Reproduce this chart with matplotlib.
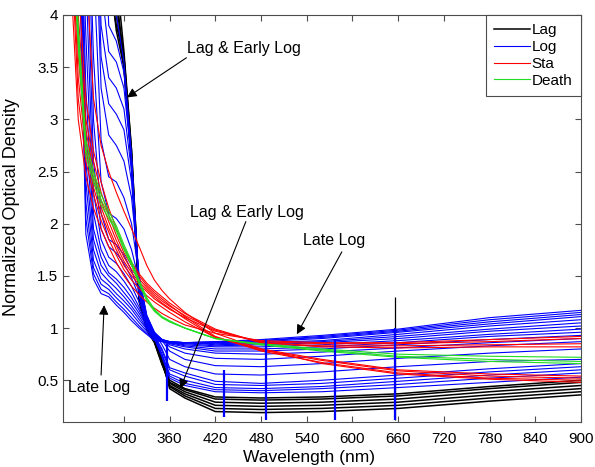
import matplotlib
matplotlib.use("Agg")
import matplotlib.pyplot as plt

plt.rcParams['font.family'] = ['Liberation Sans', 'DejaVu Sans']

wl = [220, 230, 240, 250, 260, 270, 280, 290, 300, 310, 320, 330, 340, 350, 360,
      380, 420, 480, 560, 660, 780, 900]

# Lag phase (black)
lag_od = [
    [6, 6, 6, 6, 6, 6, 4.3, 3.9, 3.6, 2.7, 1.35, 1.02, 0.9, 0.7, 0.42, 0.33, 0.2, 0.19, 0.2, 0.23, 0.3, 0.36],
    [6, 6, 6, 6, 6, 6, 5, 4.1, 3.6, 2.65, 1.3, 1.0, 0.88, 0.68, 0.44, 0.35, 0.23, 0.22, 0.23, 0.26, 0.33, 0.39],
    [6, 6, 6, 6, 6, 6, 6, 4.2, 3.55, 2.6, 1.28, 1.0, 0.87, 0.66, 0.45, 0.37, 0.26, 0.25, 0.26, 0.29, 0.36, 0.42],
    [6, 6, 6, 6, 6, 6, 4.5, 3.85, 3.5, 2.6, 1.3, 1.0, 0.88, 0.67, 0.47, 0.39, 0.29, 0.28, 0.29, 0.32, 0.39, 0.45],
    [6, 6, 6, 6, 6, 6, 6, 4.0, 3.5, 2.55, 1.25, 0.98, 0.86, 0.65, 0.48, 0.41, 0.32, 0.31, 0.32, 0.35, 0.42, 0.48],
    [6, 6, 6, 6, 6, 6, 6, 4.4, 3.65, 2.7, 1.32, 1.01, 0.89, 0.7, 0.5, 0.42, 0.34, 0.33, 0.34, 0.37, 0.44, 0.5],
]

# Log phase (blue), early -> late
log_od = [
    [6, 6, 6, 6, 6, 6, 4.6, 4.0, 3.55, 2.65, 1.32, 1.02, 0.9, 0.72, 0.52, 0.45, 0.39, 0.38, 0.39, 0.43, 0.48, 0.53],
    [6, 6, 6, 6, 6, 6, 3.9, 3.75, 3.45, 2.62, 1.36, 1.04, 0.91, 0.74, 0.54, 0.47, 0.41, 0.4, 0.42, 0.46, 0.52, 0.57],
    [6, 6, 6, 6, 6, 4.3, 3.65, 3.55, 3.3, 2.6, 1.4, 1.05, 0.92, 0.75, 0.56, 0.5, 0.43, 0.42, 0.44, 0.49, 0.55, 0.6],
    [6, 6, 6, 6, 6, 3.9, 3.4, 3.3, 3.1, 2.5, 1.42, 1.06, 0.92, 0.78, 0.6, 0.54, 0.46, 0.45, 0.47, 0.52, 0.58, 0.63],
    [6, 6, 6, 6, 6, 3.6, 3.15, 3.05, 2.9, 2.4, 1.45, 1.08, 0.93, 0.8, 0.62, 0.57, 0.49, 0.47, 0.5, 0.55, 0.61, 0.66],
    [6, 6, 6, 6, 5.5, 3.3, 2.85, 2.75, 2.6, 2.25, 1.5, 1.1, 0.95, 0.84, 0.7, 0.63, 0.56, 0.55, 0.58, 0.63, 0.68, 0.7],
    [6, 6, 6, 6, 4.5, 2.8, 2.45, 2.4, 2.25, 2.0, 1.5, 1.12, 0.96, 0.88, 0.78, 0.7, 0.64, 0.63, 0.66, 0.71, 0.76, 0.8],
    [6, 6, 6, 6, 3.6, 2.4, 2.1, 2.05, 1.95, 1.75, 1.45, 1.12, 0.96, 0.89, 0.82, 0.76, 0.71, 0.7, 0.73, 0.78, 0.83, 0.87],
    [6, 6, 6, 6, 3.0, 2.1, 1.85, 1.8, 1.7, 1.55, 1.35, 1.1, 0.95, 0.89, 0.84, 0.8, 0.76, 0.75, 0.77, 0.81, 0.86, 0.9],
    [6, 6, 6, 5, 2.6, 1.95, 1.78, 1.72, 1.62, 1.48, 1.3, 1.08, 0.95, 0.89, 0.85, 0.82, 0.78, 0.78, 0.8, 0.84, 0.89, 0.93],
    [6, 6, 6, 4.4, 2.3, 1.85, 1.68, 1.62, 1.52, 1.4, 1.25, 1.06, 0.94, 0.89, 0.86, 0.83, 0.8, 0.8, 0.82, 0.86, 0.92, 0.96],
    [6, 6, 6, 3.8, 2.1, 1.75, 1.6, 1.54, 1.45, 1.34, 1.2, 1.04, 0.93, 0.89, 0.86, 0.84, 0.82, 0.82, 0.84, 0.88, 0.94, 0.99],
    [6, 6, 6, 3.3, 1.95, 1.68, 1.53, 1.47, 1.39, 1.29, 1.17, 1.03, 0.93, 0.89, 0.86, 0.85, 0.83, 0.84, 0.86, 0.9, 0.97, 1.02],
    [6, 6, 6, 2.9, 1.85, 1.6, 1.5, 1.43, 1.34, 1.25, 1.14, 1.02, 0.92, 0.89, 0.87, 0.86, 0.84, 0.85, 0.87, 0.92, 0.99, 1.05],
    [6, 6, 6, 2.6, 1.75, 1.53, 1.45, 1.38, 1.3, 1.21, 1.11, 1.0, 0.92, 0.89, 0.87, 0.86, 0.85, 0.86, 0.88, 0.94, 1.02, 1.08],
    [6, 6, 6, 2.4, 1.65, 1.47, 1.41, 1.33, 1.26, 1.18, 1.08, 0.99, 0.91, 0.88, 0.87, 0.86, 0.86, 0.87, 0.9, 0.96, 1.04, 1.11],
    [6, 6, 6, 2.2, 1.58, 1.42, 1.37, 1.29, 1.22, 1.14, 1.05, 0.97, 0.9, 0.88, 0.87, 0.86, 0.86, 0.88, 0.91, 0.97, 1.06, 1.13],
    [6, 6, 5.5, 2.05, 1.52, 1.37, 1.33, 1.25, 1.18, 1.1, 1.02, 0.95, 0.89, 0.87, 0.86, 0.86, 0.87, 0.88, 0.92, 0.98, 1.08, 1.15],
    [6, 6, 5.0, 1.9, 1.47, 1.33, 1.3, 1.22, 1.15, 1.07, 1.0, 0.94, 0.88, 0.87, 0.86, 0.86, 0.87, 0.89, 0.93, 0.99, 1.1, 1.17],
]

# Stationary phase (red)
sta_od = [
    [6, 4.4, 3.0, 2.45, 2.15, 1.95, 1.78, 1.63, 1.5, 1.4, 1.32, 1.25, 1.19, 1.14, 1.1, 1.03, 0.95, 0.88, 0.86, 0.86, 0.89, 0.92],
    [6, 5, 3.4, 2.7, 2.35, 2.1, 1.92, 1.75, 1.6, 1.5, 1.42, 1.35, 1.28, 1.23, 1.18, 1.1, 0.97, 0.87, 0.85, 0.85, 0.87, 0.9],
    [6, 5.5, 3.8, 2.9, 2.5, 2.22, 2.02, 1.84, 1.68, 1.56, 1.47, 1.39, 1.32, 1.26, 1.21, 1.12, 0.98, 0.86, 0.83, 0.83, 0.84, 0.85],
    [6, 6, 4.3, 3.2, 2.7, 2.4, 2.15, 1.95, 1.77, 1.63, 1.52, 1.43, 1.36, 1.3, 1.24, 1.14, 0.99, 0.86, 0.82, 0.81, 0.82, 0.82],
    [6, 4.8, 3.2, 2.6, 2.28, 2.03, 1.85, 1.7, 1.56, 1.46, 1.38, 1.31, 1.25, 1.2, 1.15, 1.06, 0.91, 0.8, 0.7, 0.6, 0.56, 0.54],
    [6, 5.3, 3.6, 2.8, 2.42, 2.16, 1.96, 1.79, 1.64, 1.53, 1.44, 1.37, 1.3, 1.24, 1.19, 1.09, 0.91, 0.79, 0.69, 0.59, 0.54, 0.52],
    [6, 6, 4.0, 3.0, 2.6, 2.3, 2.08, 1.89, 1.72, 1.6, 1.5, 1.41, 1.34, 1.28, 1.22, 1.11, 0.92, 0.78, 0.67, 0.57, 0.52, 0.5],
    [6, 6, 6, 4.5, 3.2, 2.75, 2.5, 2.3, 2.12, 1.95, 1.78, 1.6, 1.46, 1.36, 1.28, 1.15, 0.95, 0.8, 0.66, 0.56, 0.51, 0.48],
]

# Death phase (green)
death_od = [
    [6, 5, 3.7, 2.65, 2.4, 2.18, 2.05, 1.93, 1.75, 1.6, 1.42, 1.26, 1.16, 1.1, 1.06, 1.0, 0.9, 0.85, 0.8, 0.75, 0.73, 0.72],
    [6, 5.4, 3.9, 2.8, 2.5, 2.28, 2.12, 1.98, 1.8, 1.64, 1.46, 1.29, 1.18, 1.11, 1.07, 1.0, 0.9, 0.84, 0.78, 0.72, 0.68, 0.66],
    [6, 5.2, 3.8, 2.72, 2.45, 2.23, 2.08, 1.95, 1.77, 1.62, 1.44, 1.28, 1.17, 1.1, 1.06, 1.0, 0.9, 0.84, 0.79, 0.73, 0.7, 0.68],
]

# instrument spikes seen in every spectrum
spike_nm = [357, 431, 486, 577, 656]
spike_top = [0.85, 0.6, 0.9, 0.9, 1.0]
spike_bottom = [0.3, 0.15, 0.12, 0.12, 0.12]
lamp_nm = [656]
lamp_top = [1.3]

fig = plt.figure(figsize=(5.95, 4.67), dpi=100)
ax = fig.add_axes([63 / 595, 1 - 422 / 467, (581 - 63) / 595, (422 - 15) / 467])

groups = [(lag_od, 'k', 1.1, 'Lag'), (log_od, 'b', 0.8, 'Log'),
          (sta_od, 'r', 0.8, 'Sta'), (death_od, '#22dd22', 0.8, 'Death')]
for curves, col, lw, name in groups:
    for i, od in enumerate(curves):
        ax.plot(wl, od, color=col, lw=lw, label=name if i == 0 else None)

ax.vlines(lamp_nm, 0.12, lamp_top, color='k', lw=0.9)
ax.vlines(spike_nm, spike_bottom, spike_top, color='b', lw=1.6)

ax.set_xlim(220, 900)
ax.set_ylim(0.1, 4)
ax.set_xticks(range(300, 901, 60))
ax.set_yticks([0.5, 1, 1.5, 2, 2.5, 3, 3.5, 4])
ax.set_yticklabels(['0.5', '1', '1.5', '2', '2.5', '3', '3.5', '4'])
ax.tick_params(direction='in', top=True, right=True, labelsize=11, length=4, color='0.3')
ax.tick_params(axis='x', pad=7)
for s in ax.spines.values():
    s.set_color('0.3')
    s.set_linewidth(0.8)

ax.set_xlabel('Wavelength (nm)', fontsize=12.5)
ax.set_ylabel('Normalized Optical Density', fontsize=13)
ax.xaxis.set_label_coords(0.475, -0.068)
ax.yaxis.set_label_coords(-0.083, 0.528)

# annotations
arrow = dict(arrowstyle='-|>', color='k', lw=0.8, mutation_scale=14, shrinkA=0, shrinkB=0)
ax.text(458, 3.68, 'Lag & Early Log', fontsize=11.5, ha='center', va='center')
ax.annotate('', xy=(304, 3.21), xytext=(382, 3.59), arrowprops=arrow)
ax.text(461, 2.11, 'Lag & Early Log', fontsize=11.5, ha='center', va='center')
ax.annotate('', xy=(374, 0.42), xytext=(460, 2.02), arrowprops=arrow)
ax.text(576, 1.84, 'Late Log', fontsize=11.5, ha='center', va='center')
ax.annotate('', xy=(527, 0.94), xytext=(586, 1.73), arrowprops=arrow)
ax.text(267, 0.43, 'Late Log', fontsize=11.5, ha='center', va='center')
ax.annotate('', xy=(274, 1.22), xytext=(270, 0.55), arrowprops=arrow)

leg = ax.legend(loc='upper right', borderaxespad=0, fontsize=11, fancybox=False,
                edgecolor='0.3', framealpha=1, handlelength=2.3, handletextpad=0.15,
                labelspacing=0.18, borderpad=0.55)
leg.get_frame().set_linewidth(0.8)

fig.savefig('out.png', dpi=100)
